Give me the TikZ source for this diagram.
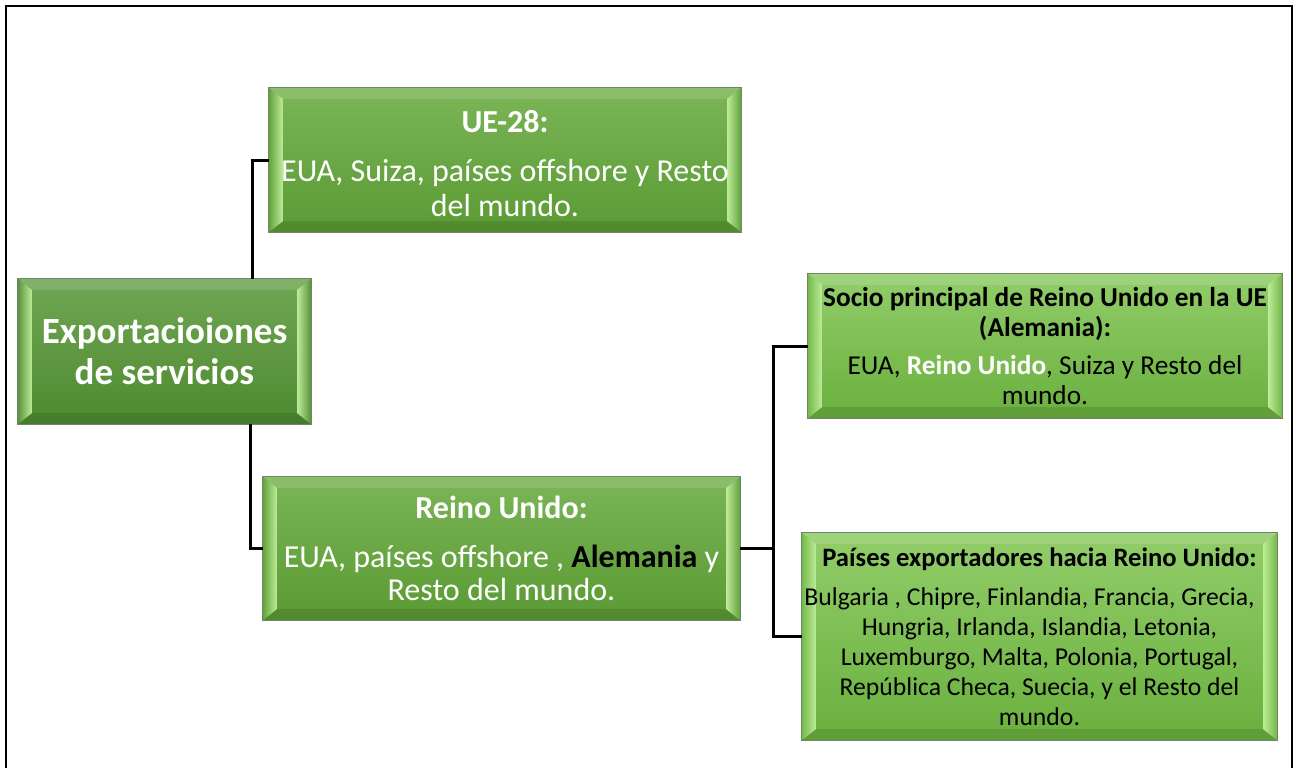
\documentclass[tikz,border=0pt]{standalone}
\usepackage{fontspec}
\setmainfont{Carlito}
\usetikzlibrary{calc}
\pgfdeclarelayer{bg}
\pgfsetlayers{bg,main}
\definecolor{rootT}{HTML}{70A653}
\definecolor{rootB}{HTML}{4E8A30}
\definecolor{midT}{HTML}{7BB557}
\definecolor{midB}{HTML}{5A9A33}
\definecolor{litT}{HTML}{92CD6A}
\definecolor{litB}{HTML}{6AB03E}
\definecolor{hiL}{HTML}{BDEB98}
\definecolor{edge}{HTML}{6F8766}

\tikzset{
  boxshape/.style={draw=none, inner sep=0pt},
  txt/.style={inner sep=0pt, align=center},
  conn/.style={line width=3pt, black},
}

% #1 name, #2 top colour, #3 bottom colour
\newcommand{\bevbox}[3]{%
\begin{pgfonlayer}{bg}
  \shade[top color=#2, bottom color=#3] (#1.north west) rectangle (#1.south east);
  \fill[white, opacity=0.13] (#1.north west) -- (#1.north east) -- ($(#1.north east)+(-14,11)$) -- ($(#1.north west)+(14,11)$) -- cycle;
  \fill[black, opacity=0.10] (#1.south west) -- (#1.south east) -- ($(#1.south east)+(-14,-11)$) -- ($(#1.south west)+(14,-11)$) -- cycle;
  \shade[left color=#3!70!#2, right color=hiL] (#1.north west) -- ($(#1.north west)+(14,11)$) -- ($(#1.south west)+(14,-11)$) -- (#1.south west) -- cycle;
  \shade[left color=hiL, right color=#3!80!#2] (#1.north east) -- ($(#1.north east)+(-14,11)$) -- ($(#1.south east)+(-14,-11)$) -- (#1.south east) -- cycle;
  \draw[edge, line width=1pt] (#1.north west) rectangle (#1.south east);
\end{pgfonlayer}}

\begin{document}
\begin{tikzpicture}[x=1pt,y=-1pt]
\useasboundingbox (0,0) rectangle (1298,768);
\draw[line width=2pt] (6,768) -- (6,6) -- (1292,6) -- (1292,768);

% boxes
\node[boxshape, minimum width=293, minimum height=145] (root) at (164.5,351.5) {};
\node[boxshape, minimum width=472, minimum height=144] (ue) at (505,160) {};
\node[boxshape, minimum width=477, minimum height=143] (ru) at (501.5,548.5) {};
\node[boxshape, minimum width=474, minimum height=144] (socio) at (1045,346) {};
\node[boxshape, minimum width=475, minimum height=207] (paises) at (1039.5,636.5) {};

\bevbox{root}{rootT}{rootB}
\bevbox{ue}{midT}{midB}
\bevbox{ru}{midT}{midB}
\bevbox{socio}{litT}{litB}
\bevbox{paises}{litT}{litB}

% texts
\node[txt, text=white, font=\fontsize{37}{41}\selectfont\bfseries] (rootTxt) at (root.center) {Exportacioiones\\de servicios};
\node[txt, text=white, font=\fontsize{32}{35}\selectfont, yshift=-4] (ueTxt) at (ue.center)
  {\textbf{UE-28:}\\[14pt]EUA, Suiza, países offshore y Resto\\del mundo.};
\node[txt, text=white, font=\fontsize{32}{33}\selectfont, yshift=0] (ruTxt) at (ru.center)
  {\textbf{Reino Unido:}\\[16pt]EUA, países offshore , \textbf{\textcolor{black}{Alemania}} y\\Resto del mundo.};
\node[txt, text=black, font=\fontsize{27.3}{30}\selectfont, yshift=0] (socioTxt) at (socio.center)
  {\textbf{Socio principal de Reino Unido en la UE}\\\textbf{(Alemania):}\\[8pt]EUA, \textbf{\textcolor{white}{Reino Unido}}, Suiza y Resto del\\mundo.};
\node[txt, text=black, font=\fontsize{25.7}{30}\selectfont, yshift=0] (paisesTxt) at (paises.center)
  {{\fontsize{26.6}{30}\selectfont\bfseries Países exportadores hacia Reino Unido:}\\[9pt]\hspace*{-20pt}Bulgaria , Chipre, Finlandia, Francia, Grecia,\\Hungria, Irlanda, Islandia, Letonia,\\Luxemburgo, Malta, Polonia, Portugal,\\República Checa, Suecia, y el Resto del\\mundo.};

% connectors
\coordinate (j1) at (252,160);
\coordinate (j2) at (250,548.5);
\coordinate (j3) at (773,548.5);
\draw[conn] (root.north -| j1) |- (ue.west);
\draw[conn] (root.south -| j2) |- (ru.west);
\draw[conn] (ru.east) -- (j3);
\draw[conn] (j3) |- (socio.west);
\draw[conn] (j3) |- (paises.west);
\end{tikzpicture}
\end{document}
